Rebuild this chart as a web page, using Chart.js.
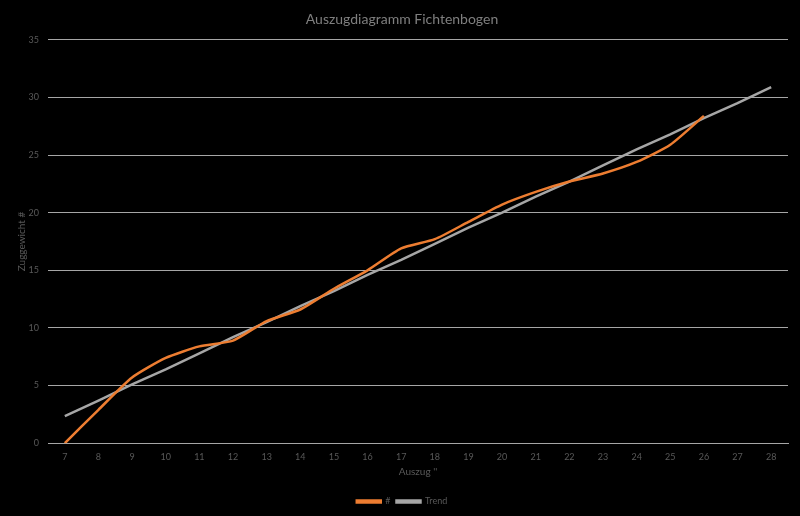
<!DOCTYPE html>
<html>
<head>
<meta charset="utf-8">
<script src="https://cdn.jsdelivr.net/npm/chart.js"></script>
<style>
  html, body { margin: 0; padding: 0; background: #000; }
</style>
</head>
<body>
<canvas id="chart" width="800" height="516"></canvas>
<script>
// categories: draw length in inches
const auszug = ['7', '8', '9', '10', '11', '12', '13', '14', '15', '16', '17',
  '18', '19', '20', '21', '22', '23', '24', '25', '26', '27', '28'];

const gewicht = [0, 2.9, 5.7, 7.4, 8.4, 8.9, 10.6, 11.6, 13.4, 15.0, 16.9,
  17.7, 19.2, 20.7, 21.8, 22.7, 23.4, 24.4, 25.9, 28.4];

// trend line values
const trend = [2.35, 3.7, 5.1, 6.4, 7.8, 9.2, 10.5, 11.9, 13.2, 14.6, 15.9,
  17.3, 18.7, 20.0, 21.4, 22.7, 24.1, 25.5, 26.8, 28.2, 29.5, 30.9];

const yMax = 35;
const yStep = 5;

const textColor = '#595959';
const fontFamily = 'Lato, "Open Sans", sans-serif';

new Chart(document.getElementById('chart'), {
  type: 'line',
  data: {
    labels: auszug,
    datasets: [
      {
        label: '#',
        data: gewicht,
        borderColor: '#ED7D31',
        backgroundColor: '#ED7D31',
        borderWidth: 2.5,
        pointRadius: 0,
        tension: 0.2
      },
      {
        label: 'Trend',
        data: trend,
        borderColor: '#A6A6A6',
        backgroundColor: '#A6A6A6',
        borderWidth: 2.5,
        pointRadius: 0,
        tension: 0
      }
    ]
  },
  options: {
    responsive: false,
    animation: false,
    devicePixelRatio: 1,
    layout: { padding: { left: 16, right: 12, top: 11, bottom: 0 } },
    plugins: {
      title: {
        display: true,
        text: 'Auszugdiagramm Fichtenbogen',
        color: '#7F7F7F',
        font: { family: fontFamily, size: 14, weight: 'normal' },
        padding: { top: 0, bottom: 12 }
      },
      legend: {
        position: 'bottom',
        labels: {
          color: textColor,
          font: { family: fontFamily, size: 9 },
          boxWidth: 24,
          boxHeight: 2,
          padding: 6
        }
      },
      tooltip: { enabled: false }
    },
    scales: {
      x: {
        offset: true,
        grid: { display: false, drawTicks: false },
        border: { display: true, color: '#A6A6A6', width: 1 },
        ticks: {
          color: textColor,
          font: { family: fontFamily, size: 9 },
          padding: 8,
          maxRotation: 0,
          autoSkip: false
        },
        title: {
          display: true,
          text: 'Auszug \'\'',
          color: textColor,
          font: { family: fontFamily, size: 10 },
          padding: { top: -4, bottom: 13 }
        }
      },
      y: {
        min: 0,
        max: yMax,
        afterFit(scale) { scale.width = 32; },
        grid: { color: '#A6A6A6', lineWidth: 1, drawTicks: false },
        border: { display: false },
        ticks: {
          stepSize: yStep,
          color: textColor,
          font: { family: fontFamily, size: 9 },
          padding: 9
        },
        title: {
          display: true,
          text: 'Zuggewicht #',
          color: textColor,
          font: { family: fontFamily, size: 10 },
          padding: { top: 0, bottom: 0 }
        }
      }
    }
  }
});
</script>
</body>
</html>
